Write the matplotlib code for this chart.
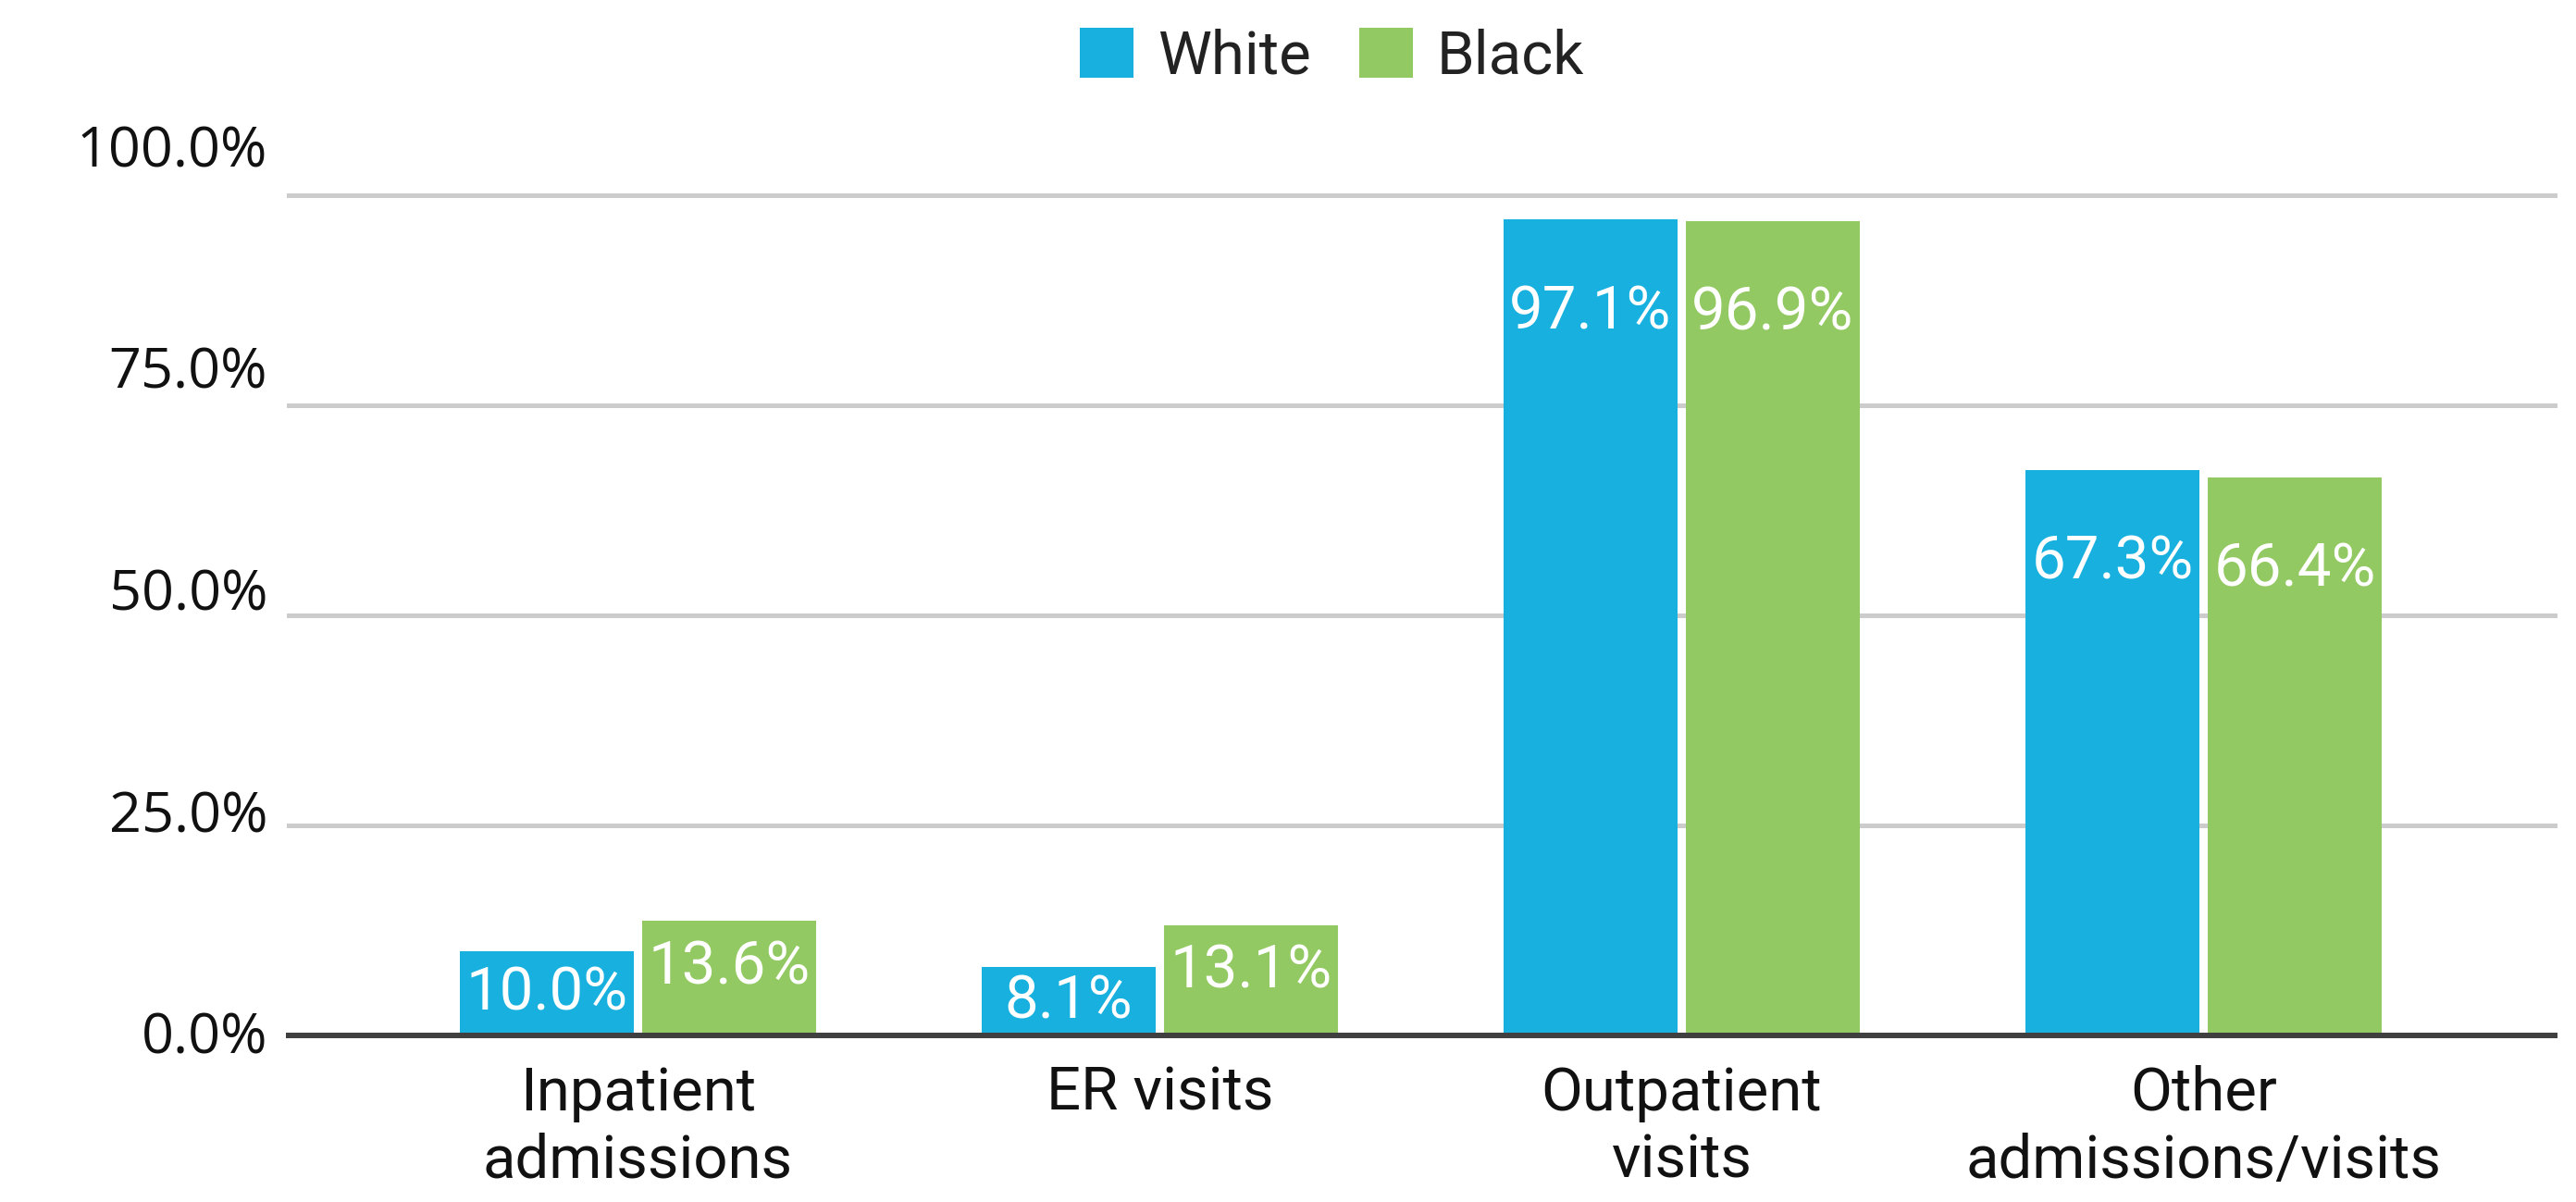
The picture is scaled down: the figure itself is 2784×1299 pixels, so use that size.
import numpy as np
import matplotlib
matplotlib.use("Agg")
import matplotlib.pyplot as plt

# data
categories = ["Inpatient\nadmissions", "ER visits", "Outpatient\nvisits", "Other\nadmissions/visits"]
white_vals = [10.0, 8.1, 97.1, 67.3]
black_vals = [13.6, 13.1, 96.9, 66.4]
series_names = ["White", "Black"]
y_ticks = [0, 25, 50, 75, 100]

blue = "#17B0DF"
green = "#92C962"
label_font = "Roboto"
tick_font = "Open Sans"

fig = plt.figure(figsize=(27.84, 12.99), dpi=100)
ax = fig.add_axes([0.1121, 0.1386, 0.8797, 0.699])

x = np.arange(len(categories))
bw = 0.333
off = 0.1746
bars_w = ax.bar(x - off, white_vals, width=bw, color=blue, label=series_names[0], zorder=2)
bars_b = ax.bar(x + off, black_vals, width=bw, color=green, label=series_names[1], zorder=2)

ax.set_xlim(-0.669, 3.673)
ax.set_ylim(0, 100)

# grid
ax.set_yticks(y_ticks)
ax.set_yticklabels([])
ax.tick_params(axis="y", length=0)
ax.yaxis.grid(True, color="#CCCCCC", linewidth=3.6, zorder=0)
for gl in ax.get_ygridlines():
    gl.set_clip_on(False)
ax.set_axisbelow(True)
ax.axhline(0, color="#3F3F3F", linewidth=4.3, zorder=3, clip_on=False)
for s in ax.spines.values():
    s.set_visible(False)

# y labels sit a bit off the grid lines, like in the original
ytr = ax.get_yaxis_transform()
for t in y_ticks:
    ax.text(-0.0094, -2.2 + 1.056 * t, f"{t:.1f}%", transform=ytr, ha="right",
            va="baseline", fontsize=44, family=tick_font, color="#111111", clip_on=False)

# category labels
ax.set_xticks(x)
ax.set_xticklabels(categories, fontsize=47, family=label_font,
                   color="#111111", linespacing=1.22)
ax.tick_params(axis="x", length=0, pad=23)

# value labels inside bars
for bars, vals in ((bars_w, white_vals), (bars_b, black_vals)):
    for b, v in zip(bars, vals):
        yy = max(v / 2, v - 5.5) if v <= 20 else v - 11
        ax.text(b.get_x() + b.get_width() / 2, yy, f"{v:.1f}%", ha="center", va="center",
                fontsize=47, family=label_font, color="white", zorder=4)

leg = fig.legend(handles=[bars_w, bars_b], labels=series_names, loc="center",
                 bbox_to_anchor=(0.517, 0.953), ncol=2, frameon=False,
                 prop={"family": label_font, "size": 47},
                 handlelength=0.89, handleheight=0.89, handletextpad=0.4,
                 columnspacing=0.8)
for t in leg.get_texts():
    t.set_color("#222222")

fig.savefig("out.png", dpi=100)
